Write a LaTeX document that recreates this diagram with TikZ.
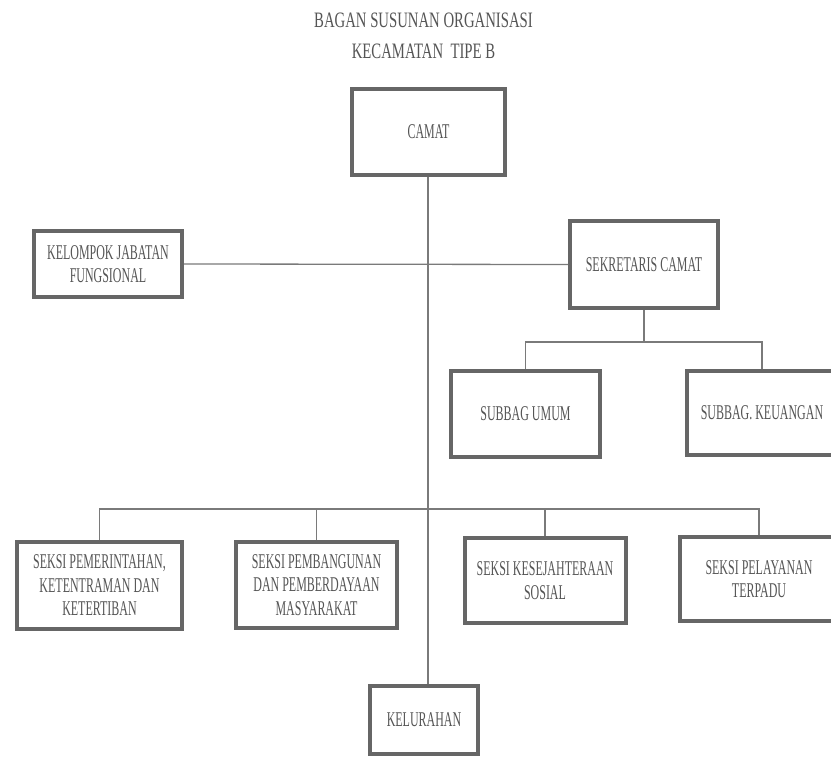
\documentclass[tikz,border=0pt]{standalone}
\usepackage{fontspec}
\setmainfont{Liberation Serif}[FakeStretch=0.57]
\newfontfamily\titlefont{Liberation Serif}[FakeStretch=0.67]
\definecolor{txt}{HTML}{555555}
\definecolor{bord}{HTML}{666666}
\definecolor{conn}{HTML}{7A7A7A}
\begin{document}
\begin{tikzpicture}[x=1pt,y=-1pt,
  box/.style={draw=bord, line width=4pt, fill=white, inner sep=0pt, align=center,
    text=txt, font=\fontsize{21}{23.5}\selectfont},
  conn/.style={draw=conn, line width=1.3pt},
  ttl/.style={text=txt, font=\titlefont\fontsize{22}{24}\selectfont, inner sep=0pt}]
\useasboundingbox (0,0) rectangle (831,760);
\clip (0,0) rectangle (831,760);
\fill[white] (0,0) rectangle (831,760);

\node[ttl] (t1) at (423.5,20) {BAGAN SUSUNAN ORGANISASI};
\node[ttl] (t2) at (423.5,51) {KECAMATAN\ \ TIPE B};

\coordinate (sekbus) at (0,342);
\coordinate (seksibus) at (0,509);

\node[box, minimum width=153pt, minimum height=86pt] (camat) at (428.5,132) {CAMAT};
\node[box, minimum width=148pt, minimum height=66pt] (kelompok) at (108,264) {KELOMPOK JABATAN\\FUNGSIONAL};
\node[box, minimum width=148pt, minimum height=87pt] (sekre) at (644,264.5) {SEKRETARIS CAMAT};
\node[box, minimum width=149pt, minimum height=86pt] (umum) at (525.5,414) {SUBBAG UMUM};
\node[box, minimum width=150pt, minimum height=84pt] (keu) at (762,413) {SUBBAG. KEUANGAN};
\node[box, minimum width=165pt, minimum height=87pt] (s1) at (99.5,585.5) {SEKSI PEMERINTAHAN,\\KETENTRAMAN DAN\\KETERTIBAN};
\node[box, minimum width=161pt, minimum height=86pt] (s2) at (316.5,585) {SEKSI PEMBANGUNAN\\DAN PEMBERDAYAAN\\MASYARAKAT};
\node[box, minimum width=161pt, minimum height=85pt, text depth=0pt] (s3) at (545,580.5) {SEKSI KESEJAHTERAAN\\SOSIAL};
\node[box, minimum width=158pt, minimum height=84pt] (s4) at (759,579) {SEKSI PELAYANAN\\TERPADU};
\node[box, minimum width=108pt, minimum height=68pt] (kel) at (424,720) {KELURAHAN};

\draw[conn] (camat.south -| 428,0) -- (428,0 |- kel.north);
\draw[conn] (kelompok.east) -- (sekre.west);
\draw[conn] (sekre.south) -- (sekre.south |- sekbus);
\draw[conn] (umum.north) -- (umum.north |- sekbus) -- (keu.north |- sekbus) -- (keu.north);
\draw[conn] (s1.north) -- (s1.north |- seksibus) -- (s4.north |- seksibus) -- (s4.north);
\draw[conn] (s2.north) -- (s2.north |- seksibus);
\draw[conn] (s3.north) -- (s3.north |- seksibus);
\end{tikzpicture}
\end{document}
